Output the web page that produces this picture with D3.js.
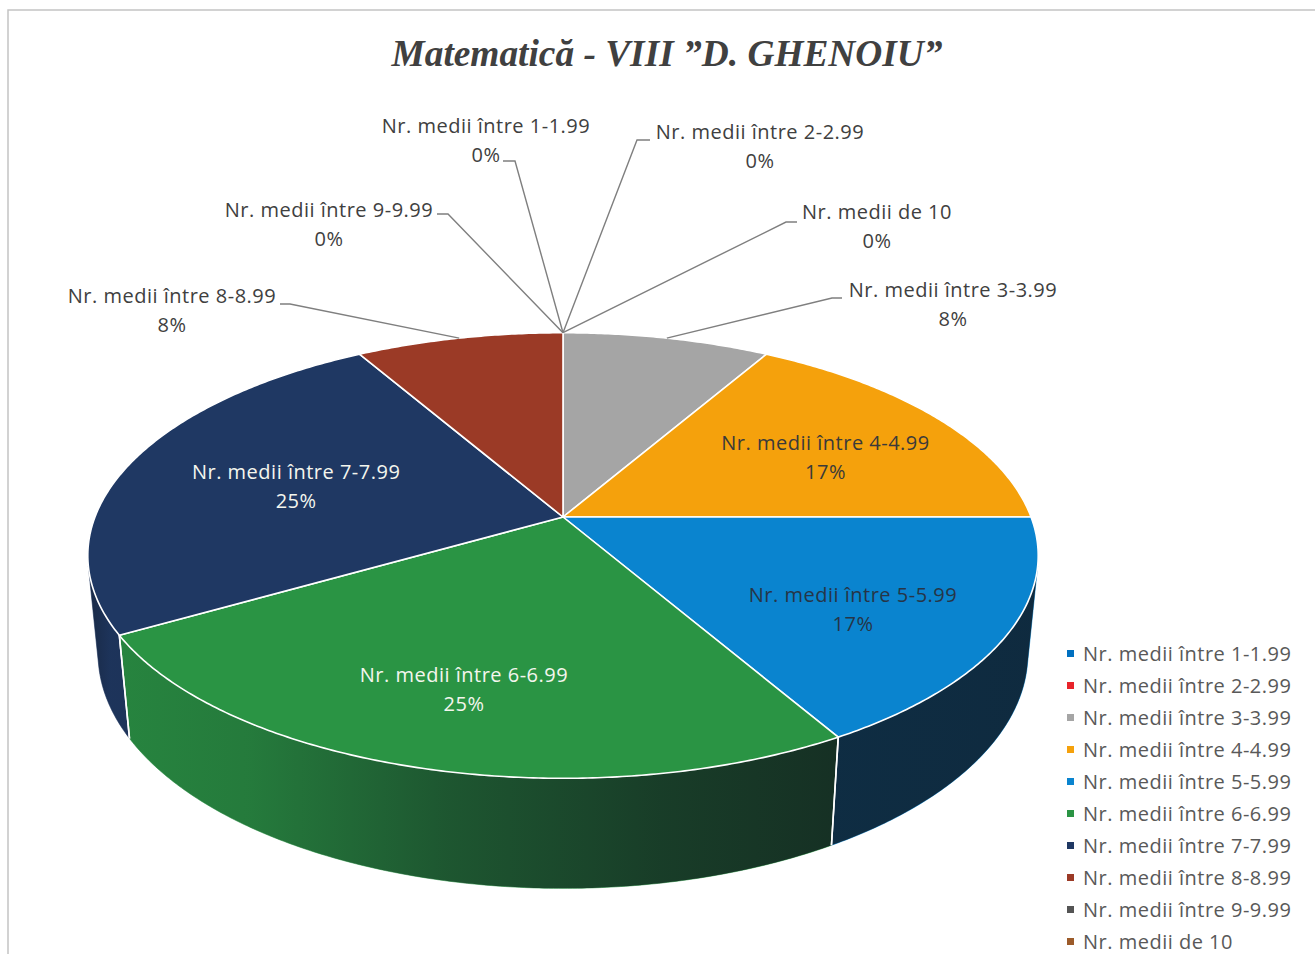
<!DOCTYPE html>
<html>
<head>
<meta charset="utf-8">
<script src="https://cdn.jsdelivr.net/npm/d3@7"></script>
<style>
  body { margin: 0; background: #ffffff; }
  svg text { font-family: "Open Sans", Lato, sans-serif; }
</style>
</head>
<body>
<div id="chart"></div>
<script>
  // ---------- //
 // Chart data //
// ---------- //
var categories = [
  "Nr. medii între 1-1.99",
  "Nr. medii între 2-2.99",
  "Nr. medii între 3-3.99",
  "Nr. medii între 4-4.99",
  "Nr. medii între 5-5.99",
  "Nr. medii între 6-6.99",
  "Nr. medii între 7-7.99",
  "Nr. medii între 8-8.99",
  "Nr. medii între 9-9.99",
  "Nr. medii de 10"
];
var counts = [0, 0, 1, 2, 2, 3, 3, 1, 0, 0];
var colors = ["#0070c0", "#e8242a", "#a5a5a5", "#f5a10c", "#0a84cf",
              "#2a9444", "#1f3863", "#9b3a26", "#545454", "#9c5b2a"];
var title = "Matematică - VIII ”D. GHENOIU”";

  // ------------ //
 // Set up chart //
// ------------ //
var svgWidth = 1315;
var svgHeight = 954;

var svg = d3.select("#chart")
  .append("svg")
  .attr("width", svgWidth)
  .attr("height", svgHeight);

var defs = svg.append("defs");

// frame of the chart area
svg.append("path")
  .attr("d", "M8,954 V10 H1315")
  .attr("fill", "none")
  .attr("stroke", "#c4c4c4")
  .attr("stroke-width", 1.5);

// title
svg.append("text")
  .attr("x", 667)
  .attr("y", 66)
  .attr("text-anchor", "middle")
  .attr("textLength", 551)
  .attr("lengthAdjust", "spacingAndGlyphs")
  .style("font-family", "'Liberation Serif', 'DejaVu Serif', serif")
  .style("font-weight", "bold")
  .style("font-style", "italic")
  .style("font-size", "38px")
  .style("fill", "#404040")
  .text(title);

  // --------------------------------- //
 // Perspective view of the 3D pie    //
// --------------------------------- //
var view = { cx: 563, cy: 517, F: 2401, E: 5.13, tilt: 27.5 * Math.PI / 180, depth: 0.2385 };
var sinT = Math.sin(view.tilt);
var cosT = Math.cos(view.tilt);

function project(theta, r, y) {
  var X = r * Math.sin(theta);
  var Z = r * Math.cos(theta);
  var d = view.E - y * sinT + Z * cosT;
  var v = y * cosT + Z * sinT;
  return [view.cx + view.F * X / d, view.cy - view.F * v / d];
}

// visible part of the side wall
var visFrom = Math.acos(-1 / (view.E * cosT));
var visTo = 2 * Math.PI - visFrom;

function sampleAngles(a0, a1) {
  var n = Math.max(2, Math.ceil(Math.abs(a1 - a0) / (0.5 * Math.PI / 180)));
  return d3.range(n + 1).map(i => a0 + (a1 - a0) * i / n);
}

var line = d3.line().curve(d3.curveLinear);

var pie = d3.pie().sort(null).value(d => d);
var arcs = pie(counts);
var total = d3.sum(counts);
var pct = d3.format(".0%");

var pieGroup = svg.append("g");

// side walls
arcs.forEach(function(a, i) {
  var s0 = Math.max(a.startAngle, visFrom);
  var s1 = Math.min(a.endAngle, visTo);
  if (s1 <= s0) return;
  var angs = sampleAngles(s0, s1);
  var pts = angs.map(t => project(t, 1, 0))
    .concat(angs.slice().reverse().map(t => project(t, 1, -view.depth)));
  pieGroup.append("path")
    .attr("d", line(pts) + "Z")
    .attr("fill", colors[i])
    .attr("stroke", colors[i])
    .attr("stroke-width", 0.6);
});

// shading of the side wall (darker towards the right)
var shadeStops = [
  [visTo, 0.4], [243, 0.12], [215, 0.2], [192, 0.48], [170, 0.68], [150, 0.78], [visFrom, 0.8]
];
var xLeft = project(visTo, 1, 0)[0];
var xRight = project(visFrom, 1, 0)[0];
var shadeGrad = defs.append("linearGradient")
  .attr("id", "sideShade")
  .attr("gradientUnits", "userSpaceOnUse")
  .attr("x1", xLeft).attr("x2", xRight)
  .attr("y1", 0).attr("y2", 0);
shadeGrad.selectAll("stop")
  .data(shadeStops)
  .enter()
  .append("stop")
  .attr("offset", function(s) {
    var t = s[0] > 7 ? s[0] * Math.PI / 180 : s[0];
    return (project(t, 1, 0)[0] - xLeft) / (xRight - xLeft);
  })
  .attr("stop-color", "#10141b")
  .attr("stop-opacity", s => s[1]);

var wall = sampleAngles(visFrom, visTo);
var wallPts = wall.map(t => project(t, 1, 0))
  .concat(wall.slice().reverse().map(t => project(t, 1, -view.depth)));
pieGroup.append("path")
  .attr("d", line(wallPts) + "Z")
  .attr("fill", "url(#sideShade)");

// white edges between the side walls
arcs.forEach(function(a) {
  [a.startAngle, a.endAngle].forEach(function(t) {
    if (a.value > 0 && t > visFrom && t < visTo) {
      pieGroup.append("path")
        .attr("d", line([project(t, 1, 0), project(t, 1, -view.depth)]))
        .attr("stroke", "#ffffff")
        .attr("stroke-width", 1.6);
    }
  });
});

// top face
arcs.forEach(function(a, i) {
  if (a.value === 0) return;
  var pts = [project(0, 0, 0)].concat(sampleAngles(a.startAngle, a.endAngle).map(t => project(t, 1, 0)));
  pieGroup.append("path")
    .attr("d", line(pts) + "Z")
    .attr("fill", colors[i])
    .attr("stroke", "#ffffff")
    .attr("stroke-width", 1.6)
    .attr("stroke-linejoin", "round");
});

  // ----------- //
 // Data labels //
// ----------- //
var labelSize = 20;
var labelSpacing = 0.5;
var insideText = { 3: "#3a3a3a", 4: "#263547", 5: "#f4f6ee", 6: "#f4f6ee" };
var insideNudge = { 3: [-5, 12], 4: [-12, 12], 5: [-3, 8], 6: [40, 8] };

// outside labels: text centre, and elbow of leader line
var outside = {
  0: { x: 486, y: 133, elbow: [[503, 161], [515, 161]] },
  1: { x: 760, y: 139, elbow: [[650, 140], [637, 140]] },
  2: { x: 953, y: 297, elbow: [[842, 298], [832, 298]] },
  7: { x: 172, y: 303, elbow: [[280, 304], [290, 304]] },
  8: { x: 329, y: 217, elbow: [[437, 214], [448, 214]] },
  9: { x: 877, y: 219, elbow: [[797, 222], [786, 222]] }
};

var labelGroup = svg.append("g");

arcs.forEach(function(a, i) {
  var mid = (a.startAngle + a.endAngle) / 2;
  var share = pct(a.value / total);
  var pos, fill;
  if (outside[i]) {
    var o = outside[i];
    labelGroup.append("path")
      .attr("d", line(o.elbow.concat([project(mid, 1, 0)])))
      .attr("fill", "none")
      .attr("stroke", "#7f7f7f")
      .attr("stroke-width", 1.4);
    pos = [o.x, o.y];
    fill = "#404040";
  } else {
    var p = project(mid, 0.7, 0);
    pos = [p[0] + insideNudge[i][0], p[1] + insideNudge[i][1] - 8];
    fill = insideText[i];
  }
  var t = labelGroup.append("text")
    .attr("x", pos[0])
    .attr("y", pos[1])
    .attr("text-anchor", "middle")
    .style("font-size", labelSize + "px")
    .style("letter-spacing", labelSpacing + "px")
    .style("fill", fill);
  t.append("tspan").attr("x", pos[0]).text(categories[i]);
  t.append("tspan").attr("x", pos[0]).attr("dy", 29).text(share);
});

  // ------ //
 // Legend //
// ------ //
var legend = svg.append("g")
  .attr("transform", "translate(1067, 654)");

var rows = legend.selectAll("g")
  .data(categories)
  .enter()
  .append("g")
  .attr("transform", (d, i) => `translate(0, ${i * 32})`);

rows.append("rect")
  .attr("x", 0)
  .attr("y", -4)
  .attr("width", 7)
  .attr("height", 7)
  .attr("fill", (d, i) => colors[i]);

rows.append("text")
  .attr("x", 16)
  .attr("y", 7)
  .style("font-size", labelSize + "px")
  .style("letter-spacing", labelSpacing + "px")
  .style("fill", "#595959")
  .text(d => d);
</script>
</body>
</html>
